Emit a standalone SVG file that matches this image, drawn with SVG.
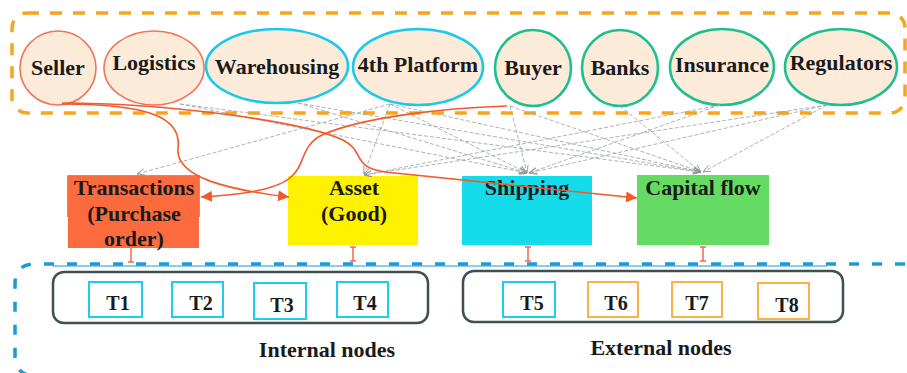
<svg xmlns="http://www.w3.org/2000/svg" width="907" height="373" viewBox="0 0 907 373">
<style>
text{font-family:'Liberation Serif','DejaVu Serif',serif;font-weight:700;fill:#1a1a1a;text-anchor:middle}
.ell{fill:#fdebd9}
.red{stroke:#f2735a;stroke-width:1.6}
.cy{stroke:#19c9ec;stroke-width:2.6}
.gr{stroke:#1dbf8c;stroke-width:2.6}
.lbl{font-size:22px}
.tb{fill:#fff;stroke-width:2}
.tc{stroke:#1ecdee}
.to{stroke:#fbb347}
.tl{font-size:20px}
.g{fill:none;stroke:#a3a9ad;stroke-width:0.9;stroke-dasharray:4 2;marker-end:url(#ga)}
.o{fill:none;stroke:#f25a2b;stroke-width:1.6}
.bar{stroke:#f46a4a;stroke-width:1.5;fill:none}
</style>
<defs>
<marker id="ga" viewBox="0 0 10 10" refX="10" refY="5" markerWidth="8" markerHeight="8" orient="auto" markerUnits="userSpaceOnUse">
<path d="M0,1 L10,5 L0,9" fill="none" stroke="#8a9195" stroke-width="1"/>
</marker>
<marker id="oa" viewBox="0 0 10 10" refX="10" refY="5" markerWidth="11" markerHeight="11" orient="auto" markerUnits="userSpaceOnUse">
<path d="M0,0 L10,5 L0,10 z" fill="#f25a2b"/>
</marker>
</defs>
<rect width="907" height="373" fill="#fff"/>

<g id="upper-frame">
<rect x="12" y="13" width="893" height="100" rx="15" fill="none" stroke="#f8a51c" stroke-width="3.5" stroke-dasharray="12 11"/>
</g>
<g id="lower-frame">
<path d="M905,264 L35,264 Q15,264 15,284 L15,355 Q15,376 36,376" fill="none" stroke="#1a9ad6" stroke-width="3.5" stroke-dasharray="10 13"/>
<line x1="53" y1="266" x2="827" y2="266" stroke="#1a9ad6" stroke-width="1"/>
</g>

<g id="seller"><ellipse class="ell red" cx="58" cy="68" rx="38" ry="37"/><text class="lbl" x="58" y="75" font-family="Liberation Serif">Seller</text></g>
<g id="logistics"><ellipse class="ell red" cx="154" cy="68" rx="50" ry="37"/><text class="lbl" x="154" y="70">Logistics</text></g>
<g id="warehousing"><ellipse class="ell cy" cx="277" cy="66" rx="71" ry="37"/><text class="lbl" x="277" y="74">Warehousing</text></g>
<g id="platform"><ellipse class="ell cy" cx="418" cy="67" rx="65" ry="38"/><text class="lbl" x="418" y="72">4th Platform</text></g>
<g id="buyer"><ellipse class="ell gr" cx="533" cy="68" rx="38" ry="38"/><text class="lbl" x="533" y="75">Buyer</text></g>
<g id="banks"><ellipse class="ell gr" cx="620" cy="68" rx="38" ry="38"/><text class="lbl" x="620" y="75">Banks</text></g>
<g id="insurance"><ellipse class="ell gr" cx="722" cy="67" rx="52" ry="38"/><text class="lbl" x="722" y="72">Insurance</text></g>
<g id="regulators"><ellipse class="ell gr" cx="841" cy="67" rx="56" ry="38"/><text class="lbl" x="841" y="70">Regulators</text></g>

<g id="transactions">
<rect x="68" y="176" width="131" height="72" fill="#fb6b3d"/>
<path d="M67.5,217 V175.5 H199.5 V217" fill="none" stroke="#4fc39a" stroke-width="1"/>
<text class="lbl" x="134" y="195">Transactions</text>
<text class="lbl" x="134" y="221">(Purchase</text>
<text class="lbl" x="134" y="246">order)</text>
</g>
<g id="asset">
<rect x="288" y="176" width="130" height="69" fill="#fff200"/>
<text class="lbl" x="354" y="195">Asset</text>
<text class="lbl" x="354" y="221">(Good)</text>
</g>
<g id="shipping">
<rect x="462" y="176" width="130" height="69" fill="#14dcea"/>
<text class="lbl" x="527" y="195">Shipping</text>
</g>
<g id="capital">
<rect x="637" y="175" width="132" height="70" fill="#64dc64"/>
<text class="lbl" x="703" y="195">Capital flow</text>
</g>

<g id="internal">
<rect x="53" y="272" width="375" height="51" rx="11" fill="none" stroke="#3f4f55" stroke-width="2.5"/>
<text class="lbl" x="327" y="357">Internal nodes</text>
</g>
<g id="t1"><rect class="tb tc" x="89" y="282" width="53" height="35"/><text class="tl" x="118" y="310">T1</text></g>
<g id="t2"><rect class="tb tc" x="172" y="282" width="51" height="35"/><text class="tl" x="201" y="310">T2</text></g>
<g id="t3"><rect class="tb tc" x="254" y="283" width="52" height="36" stroke-width="2.5"/><text class="tl" x="282" y="312">T3</text></g>
<g id="t4"><rect class="tb tc" x="337" y="282" width="51" height="35"/><text class="tl" x="365" y="310">T4</text></g>

<g id="external">
<rect x="463" y="271" width="380" height="51" rx="11" fill="none" stroke="#3f4f55" stroke-width="2.5"/>
<text class="lbl" x="661" y="355">External nodes</text>
</g>
<g id="t5"><rect class="tb tc" x="503" y="282" width="52" height="35" stroke-width="2.5"/><text class="tl" x="532" y="310">T5</text></g>
<g id="t6"><rect class="tb to" x="588" y="282" width="50" height="35"/><text class="tl" x="616" y="310">T6</text></g>
<g id="t7"><rect class="tb to" x="672" y="282" width="50" height="35"/><text class="tl" x="697" y="310">T7</text></g>
<g id="t8"><rect class="tb to" x="758" y="283" width="51" height="36"/><text class="tl" x="787" y="312">T8</text></g>

<g id="connectors">
<path class="g" d="M180,104 L527,173"/>
<path class="g" d="M180,104 L701,172"/>
<path class="g" d="M298,103 L527,173"/>
<path class="g" d="M298,103 L701,172"/>
<path class="g" d="M390,104 L137,174"/>
<path class="g" d="M390,104 L364,174"/>
<path class="g" d="M390,104 L527,173"/>
<path class="g" d="M390,104 L701,172"/>
<path class="g" d="M510,106 L527,173"/>
<path class="g" d="M510,106 L701,172"/>
<path class="g" d="M620,106 L701,172"/>
<path class="g" d="M720,105 L529,173"/>
<path class="g" d="M720,105 L364,175"/>
<path class="g" d="M827,105 L529,173"/>
<path class="g" d="M827,105 L703,172"/>
<path class="g" d="M827,105 L364,175"/>

<path class="o" marker-end="url(#oa)" d="M62,104 C150,104 182,118 178,148 C175,178 230,190 289,197"/>
<path class="o" marker-end="url(#oa)" d="M62,103 C160,103 300,120 343,140 C366,152 350,166 385,172 L637,198"/>
<path class="o" marker-end="url(#oa)" d="M507,106 C440,108 360,118 322,135 C300,146 306,165 290,178 C272,192 232,195 201,197"/>

<path class="bar" d="M131,248 V262 M128,262 H134"/>
<path class="bar" d="M353,247 V261 M350,247 H356 M350,261 H356"/>
<path class="bar" d="M528,247 V261 M525,247 H531 M525,261 H531"/>
<path class="bar" d="M703,247 V261 M700,247 H706 M700,261 H706"/>
</g>
</svg>
